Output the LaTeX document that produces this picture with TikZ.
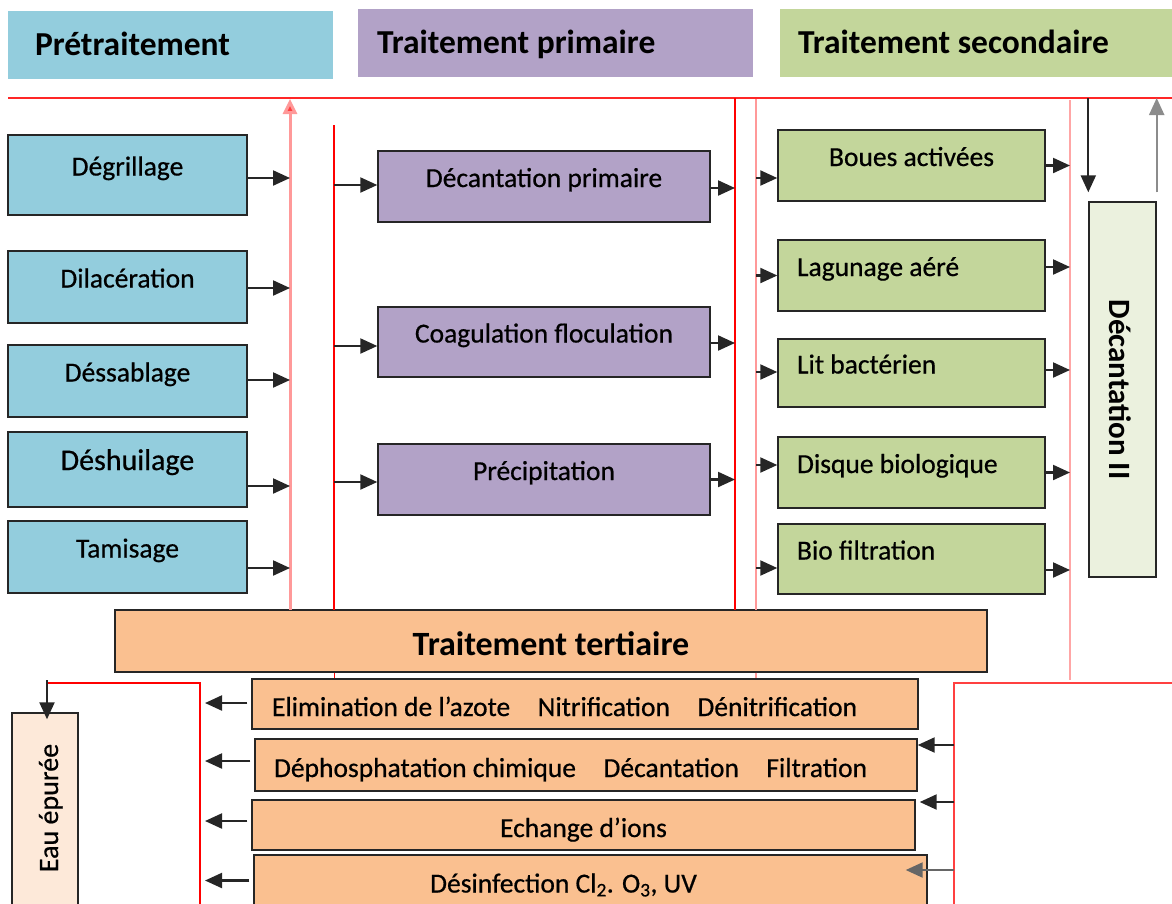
\documentclass[tikz,border=0pt]{standalone}
\usepackage{fontspec}
\setmainfont{Carlito}[UprightFeatures={FakeBold=0.6}]
\usetikzlibrary{arrows.meta}
\definecolor{bleu}{HTML}{93CDDD}
\definecolor{mauve}{HTML}{B2A2C7}
\definecolor{vert}{HTML}{C3D69B}
\definecolor{saumon}{HTML}{FAC090}
\definecolor{vertpale}{HTML}{EBF1DE}
\definecolor{rosepale}{HTML}{FDE9D9}
\begin{document}
\begin{tikzpicture}[x=1pt,y=-1pt,line cap=butt,line join=miter,
	hdr/.style={fill=#1,minimum height=68pt,inner ysep=0pt,text height=25pt,text depth=5pt,font=\fontsize{33.5}{36}\selectfont\bfseries,execute at begin node={\spaceskip=0pt\xspaceskip=0pt\relax}},
	blk/.style={draw=black!85,line width=1.4pt,fill=#1,inner sep=0pt,text height=19pt,text depth=18pt,font=\fontsize{27.5}{30}\selectfont},
	lft/.style={text width=#1,inner xsep=19pt,execute at begin node={\spaceskip=0pt\xspaceskip=0pt\relax}},
	rowbox/.style={blk=saumon,minimum height=50pt,text height=26.5pt,text depth=2.5pt},
	arr/.style={-{Triangle[length=17pt,width=15pt]},draw=black!85,line width=2.2pt},
	redline/.style={draw=red,line width=1.5pt},
	pinkline/.style={draw=red!40,line width=2.5pt}]
	\useasboundingbox (0,0) rectangle (1172,903);
	\node[hdr=bleu,minimum width=325pt,text width=271pt,inner xsep=27pt] (pre) at (170.5,45) {Prétraitement};
	\node[hdr=mauve,minimum width=395pt,text width=357pt,inner xsep=19pt] (prim) at (555.5,43) {Traitement primaire};
	\node[hdr=vert,minimum width=392pt,text width=356pt,inner xsep=18pt] (sec) at (976,43) {Traitement secondaire};
	\node[blk=bleu,minimum width=239pt,minimum height=80pt] (degr) at (127.5,175) {Dégrillage};
	\node[blk=bleu,minimum width=239pt,minimum height=72pt] (dila) at (127.5,287) {Dilacération};
	\node[blk=bleu,minimum width=239pt,minimum height=72pt] (dess) at (127.5,381) {Déssablage};
	\node[blk=bleu,minimum width=239pt,minimum height=75pt,font=\fontsize{30}{32}\selectfont] (desh) at (127.5,469.5) {Déshuilage};
	\node[blk=bleu,minimum width=239pt,minimum height=72pt] (tami) at (127.5,557) {Tamisage};
	\node[blk=mauve,minimum width=332pt,minimum height=71pt] (decp) at (544,186.5) {Décantation primaire};
	\node[blk=mauve,minimum width=332pt,minimum height=70pt] (coag) at (544,342) {Coagulation floculation};
	\node[blk=mauve,minimum width=332pt,minimum height=71pt] (prec) at (544,479.5) {Précipitation};
	\node[blk=vert,minimum width=267pt,minimum height=71pt] (boue) at (911.5,165.5) {Boues activées};
	\node[blk=vert,lft=229pt,minimum height=71pt] (lagu) at (911.5,275.5) {Lagunage aéré};
	\node[blk=vert,lft=229pt,minimum height=68pt] (litb) at (911.5,373) {Lit bactérien};
	\node[blk=vert,lft=229pt,minimum height=71pt] (disq) at (911.5,472.5) {Disque biologique};
	\node[blk=vert,lft=229pt,minimum height=70pt] (biof) at (911.5,559) {Bio filtration};
	\node[blk=vertpale,minimum width=67pt,minimum height=375pt] (dec2) at (1122.5,389.5) {};
	\node[rotate=-90,inner sep=0pt,text height=19pt,text depth=0pt,font=\fontsize{31}{33}\selectfont\bfseries] (dec2txt) at (1119,389.5) {Décantation II};
	\node[blk=saumon,minimum width=872pt,minimum height=62pt,text height=34pt,text depth=6pt,font=\fontsize{34}{36}\selectfont\bfseries] (tert) at (551,641) {Traitement tertiaire};
	\node[rowbox,lft=626pt,inner xsep=20pt] (elim) at (585,704) {Elimination de l’azote\quad Nitrification\quad Dénitrification};
	\node[rowbox,lft=624pt,minimum height=52pt] (deph) at (586,765) {Déphosphatation chimique\quad Décantation\quad Filtration};
	\node[rowbox,minimum width=663pt] (echa) at (583.5,825) {Echange d’ions};
	\node[rowbox,minimum width=673pt,minimum height=51pt] (desi) at (590.5,880.5) {Désinfection Cl\textsubscript{2}. O\textsubscript{3}, UV\hspace*{54pt}};
	\node[blk=rosepale,minimum width=66pt,minimum height=197pt] (eau) at (45,811.5) {};
	\node[rotate=90,inner sep=0pt,text height=18pt,text depth=0pt,font=\fontsize{28}{30}\selectfont] (eautxt) at (49,808) {Eau épurée};
	\coordinate (topL) at (8,98);
	\coordinate (topR) at (1172,98);
	\coordinate (rA) at (290,610);
	\coordinate (rAt) at (290,99);
	\coordinate (rB) at (334,125);
	\coordinate (rBb) at (334,610);
	\coordinate (rC) at (735,98);
	\coordinate (rCb) at (735,610);
	\coordinate (rD) at (756,99);
	\coordinate (rDb) at (756,610);
	\coordinate (rE) at (1070,100);
	\coordinate (rEb) at (1070,680);
	\coordinate (outL) at (47,683);
	\coordinate (rF) at (200,683);
	\coordinate (rFb) at (200,910);
	\coordinate (rG) at (954,683);
	\coordinate (rGr) at (1172,683);
	\coordinate (rGb) at (954,910);
	\draw[redline,draw=red!85] (topL) -- (topR);
	\draw[pinkline,line width=3pt,-{Triangle[length=15pt,width=14pt,fill=red!75]}] (rA) -- (rAt);
	\draw[redline,line width=1.2pt] (rB) -- (rBb);
	\draw[redline,line width=2.5pt] (rC) -- (rCb);
	\draw[pinkline,line width=2pt] (rD) -- (rDb);
	\draw[pinkline,draw=red!35,line width=1.5pt] (rE) -- (rEb);
	\draw[redline,line width=1pt] (tert.south -| rB) -- (elim.north -| rB);
	\draw[pinkline,line width=1.5pt] (tert.south -| rD) -- (elim.north -| rD);
	\draw[redline] (outL) -- (rF) -- (rFb);
	\draw[redline,draw=red!75] (rGr) -- (rG) -- (rGb);
	\foreach \n/\d in {degr/-3pt,dila/-1pt,dess/1pt,desh/-16.5pt,tami/-11pt}
		\draw[arr] ([yshift=\d]\n.east) -- ([yshift=\d]\n.east -| rA);
	\foreach \n/\d in {decp/1.5pt,coag/-4pt,prec/-2.5pt}
		\draw[arr] ([yshift=\d]\n.west -| rB) -- ([yshift=\d]\n.west);
	\foreach \n/\d in {decp/-1.5pt,coag/-1pt,prec/0pt}
		\draw[arr] ([yshift=\d]\n.east) -- ([yshift=\d]\n.east -| rC);
	\foreach \n/\d in {boue/-12.5pt,lagu/0pt,litb/1pt,disq/7.5pt,biof/-9pt}
		\draw[arr] ([yshift=\d]\n.west -| rD) -- ([yshift=\d]\n.west);
	\foreach \n/\d in {boue/0pt,lagu/8.5pt,litb/3pt,disq/0pt,biof/-11pt}
		\draw[arr] ([yshift=\d]\n.east) -- ([yshift=\d]\n.east -| rE);
	\foreach \n/\d in {elim/1pt,deph/4pt,echa/4pt,desi/0pt}
		\draw[arr] ([yshift=\d,xshift=-4pt]\n.west) -- ([yshift=\d,xshift=5pt]\n.west -| rF);
	\draw[arr] ([yshift=20pt]deph.east -| rG) -- ([yshift=20pt]deph.east);
	\draw[arr] ([yshift=23pt]echa.east -| rG) -- ([yshift=23pt,xshift=4pt]echa.east);
	\draw[arr,draw=black!60] ([yshift=10.5pt]desi.east -| rG) -- ([yshift=10.5pt,xshift=-22pt]desi.east);
	\draw[arr] ([yshift=3pt]outL) -- ([yshift=-7pt]outL |- eau.north);
	\draw[arr] (dec2.north west |- topL) -- ([yshift=9pt]dec2.north west);
	\draw[arr,draw=black!45] ([yshift=9pt]dec2.north east) -- (dec2.north east |- topL);
\end{tikzpicture}
\end{document}
